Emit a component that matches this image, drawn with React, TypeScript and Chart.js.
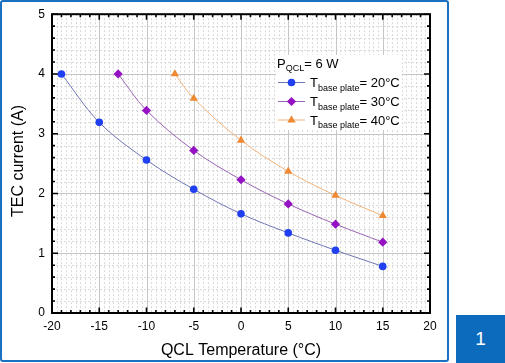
import React, { useEffect, useRef } from 'react';
import { Chart, registerables } from 'chart.js';

Chart.register(...registerables);

const FONT = '"Liberation Sans", Arial, sans-serif';

// ---- data ----
const temps20 = [-19, -15, -10, -5, 0, 5, 10, 15];
const current20 = [4.0, 3.19, 2.56, 2.07, 1.66, 1.34, 1.05, 0.78];
const temps30 = [-13, -10, -5, 0, 5, 10, 15];
const current30 = [4.0, 3.39, 2.72, 2.23, 1.825, 1.487, 1.185];
const temps40 = [-7, -5, 0, 5, 10, 15];
const current40 = [4.0, 3.59, 2.89, 2.37, 1.967, 1.628];

const seriesLabels = ['20°C', '30°C', '40°C'];
const xTitle = 'QCL Temperature (°C)';
const yTitle = 'TEC current (A)';
const powerLabel = '6 W';

const X_MIN = -20, X_MAX = 20, Y_MIN = 0, Y_MAX = 5;

const markerColors = ['#1f3ff0', '#9412c4', '#ee8a34'];
const lineColors = ['#6f76b4', '#9a62b4', '#f2b37a'];
const pointStyles = ['circle', 'rectRot', 'triangle'];
const pointRadii = [3.8, 4.6, 4.8];

function drawMarker(ctx: CanvasRenderingContext2D, style: string, x: number, y: number, r: number, color: string) {
  ctx.save();
  ctx.fillStyle = color;
  ctx.beginPath();
  if (style === 'circle') {
    ctx.arc(x, y, r, 0, Math.PI * 2);
  } else if (style === 'rectRot') {
    ctx.moveTo(x, y - r);
    ctx.lineTo(x + r, y);
    ctx.lineTo(x, y + r);
    ctx.lineTo(x - r, y);
    ctx.closePath();
  } else {
    for (let k = 0; k < 3; k++) {
      const a = (k * 2 * Math.PI) / 3;
      const px = x + Math.sin(a) * r;
      const py = y - Math.cos(a) * r;
      if (k === 0) ctx.moveTo(px, py);
      else ctx.lineTo(px, py);
    }
    ctx.closePath();
  }
  ctx.fill();
  ctx.restore();
}

const framePlugin = {
  id: 'frameGrid',
  beforeDatasetsDraw(chart: any) {
    const { ctx, chartArea } = chart;
    const { left, right, top, bottom } = chartArea;
    const xs = chart.scales.x;
    const ys = chart.scales.y;
    ctx.save();
    // minor dotted grid
    ctx.strokeStyle = '#d9d9d9';
    ctx.lineWidth = 1;
    ctx.setLineDash([2, 2]);
    ctx.beginPath();
    for (let i = X_MIN * 2; i <= X_MAX * 2; i++) {
      if (i % 10 === 0) continue;
      const px = Math.round(xs.getPixelForValue(i / 2)) + 0.5;
      ctx.moveTo(px, top);
      ctx.lineTo(px, bottom);
    }
    for (let i = Y_MIN * 5; i <= Y_MAX * 5; i++) {
      if (i % 5 === 0) continue;
      const py = Math.round(ys.getPixelForValue(i / 5)) + 0.5;
      ctx.moveTo(left, py);
      ctx.lineTo(right, py);
    }
    ctx.stroke();
    // major grid
    ctx.setLineDash([]);
    ctx.strokeStyle = '#c6c6c6';
    ctx.beginPath();
    for (let v = X_MIN; v <= X_MAX; v += 5) {
      const px = Math.round(xs.getPixelForValue(v)) + 0.5;
      ctx.moveTo(px, top);
      ctx.lineTo(px, bottom);
    }
    for (let v = Y_MIN; v <= Y_MAX; v += 1) {
      const py = Math.round(ys.getPixelForValue(v)) + 0.5;
      ctx.moveTo(left, py);
      ctx.lineTo(right, py);
    }
    ctx.stroke();
    // frame box
    ctx.strokeStyle = '#000';
    ctx.lineWidth = 2;
    ctx.strokeRect(left, top, right - left, bottom - top);
    // inward ticks
    ctx.lineWidth = 1.6;
    ctx.beginPath();
    for (let i = X_MIN; i <= X_MAX; i++) {
      const len = i % 5 === 0 ? 5.5 : 3;
      const px = xs.getPixelForValue(i);
      ctx.moveTo(px, bottom);
      ctx.lineTo(px, bottom - len);
      ctx.moveTo(px, top);
      ctx.lineTo(px, top + len);
    }
    for (let i = Y_MIN * 5; i <= Y_MAX * 5; i++) {
      const len = i % 5 === 0 ? 6 : 3;
      const py = ys.getPixelForValue(i / 5);
      ctx.moveTo(left, py);
      ctx.lineTo(left + len, py);
      ctx.moveTo(right, py);
      ctx.lineTo(right - len, py);
    }
    ctx.stroke();
    ctx.restore();
  },
  afterDatasetsDraw(chart: any) {
    const { ctx } = chart;
    ctx.save();
    // legend background
    ctx.fillStyle = '#ffffff';
    ctx.fillRect(276, 55, 126, 75);
    ctx.fillStyle = '#000';
    ctx.textBaseline = 'alphabetic';
    ctx.textAlign = 'left';
    // P_QCL = 6 W
    let x = 277;
    ctx.font = `13px ${FONT}`;
    ctx.fillText('P', x, 67.5);
    x += ctx.measureText('P').width;
    ctx.font = `9px ${FONT}`;
    ctx.fillText('QCL', x, 71);
    x += ctx.measureText('QCL').width;
    ctx.font = `13px ${FONT}`;
    ctx.fillText('= ' + powerLabel, x, 67.5);
    // entries
    const rowsY = [87, 106, 124.5];
    for (let k = 0; k < 3; k++) {
      const by = rowsY[k];
      const my = by - 4.5;
      ctx.strokeStyle = lineColors[k];
      ctx.lineWidth = 1;
      ctx.beginPath();
      ctx.moveTo(278, my);
      ctx.lineTo(305, my);
      ctx.stroke();
      drawMarker(ctx, pointStyles[k], 291.5, my, pointRadii[k], markerColors[k]);
      ctx.fillStyle = '#000';
      let tx = 310;
      ctx.font = `13px ${FONT}`;
      ctx.fillText('T', tx, by);
      tx += ctx.measureText('T').width;
      ctx.font = `9px ${FONT}`;
      ctx.fillText('base plate', tx, by + 3.5);
      tx += ctx.measureText('base plate').width;
      ctx.font = `13px ${FONT}`;
      ctx.fillText('= ' + seriesLabels[k], tx, by);
    }
    // axis titles
    ctx.font = `16px ${FONT}`;
    ctx.textAlign = 'center';
    ctx.fillText(xTitle, 241, 355);
    ctx.save();
    ctx.translate(23, 161);
    ctx.rotate(-Math.PI / 2);
    ctx.fillText(yTitle, 0, 0);
    ctx.restore();
    ctx.restore();
  },
};

function toPoints(xs: number[], ys: number[]) {
  return xs.map((v, i) => ({ x: v, y: ys[i] }));
}

export default function App() {
  const ref = useRef<HTMLCanvasElement>(null);
  useEffect(() => {
    if (!ref.current) return;
    const series = [
      toPoints(temps20, current20),
      toPoints(temps30, current30),
      toPoints(temps40, current40),
    ];
    const chart = new Chart(ref.current, {
      type: 'line',
      data: {
        datasets: series.map((d, k) => ({
          label: seriesLabels[k],
          data: d,
          borderColor: lineColors[k],
          borderWidth: 1,
          backgroundColor: markerColors[k],
          pointBackgroundColor: markerColors[k],
          pointBorderColor: markerColors[k],
          pointBorderWidth: 0,
          pointStyle: pointStyles[k] as any,
          pointRadius: pointRadii[k],
          tension: 0.35,
          fill: false,
        })),
      },
      options: {
        responsive: false,
        animation: false,
        devicePixelRatio: 1,
        layout: { padding: { left: 0, top: 9.7, right: 19, bottom: 0 } },
        plugins: { legend: { display: false }, tooltip: { enabled: false } },
        scales: {
          x: {
            type: 'linear',
            min: X_MIN,
            max: X_MAX,
            afterFit: (s: any) => { s.height = 49; },
            ticks: {
              stepSize: 5,
              color: '#000',
              padding: 6,
              maxRotation: 0,
              autoSkip: false,
              font: { family: FONT, size: 12 },
            },
            grid: { display: true, drawOnChartArea: false, drawTicks: false, color: 'rgba(0,0,0,0)' },
            border: { display: false },
          },
          y: {
            type: 'linear',
            min: Y_MIN,
            max: Y_MAX,
            afterFit: (s: any) => { s.width = 52; },
            ticks: {
              stepSize: 1,
              color: '#000',
              padding: 7,
              font: { family: FONT, size: 12 },
            },
            grid: { display: true, drawOnChartArea: false, drawTicks: false, color: 'rgba(0,0,0,0)' },
            border: { display: false },
          },
        },
      },
      plugins: [framePlugin],
    });
    return () => chart.destroy();
  }, []);

  return (
    <div style={{ position: 'fixed', left: 0, top: 0, width: 505, height: 363, background: '#fff', overflow: 'hidden' }}>
      <canvas ref={ref} width={449} height={362} style={{ position: 'absolute', left: 0, top: 0, display: 'block' }} />
      <div
        style={{
          position: 'absolute', left: 0, top: 0, width: 449, height: 362,
          border: '2px solid #1c70c2', borderRadius: 3, boxSizing: 'border-box', pointerEvents: 'none',
        }}
      />
      <div
        style={{
          position: 'absolute', left: 456, top: 315, width: 49, height: 48, background: '#0c6bbd',
          color: '#fff', fontFamily: FONT, fontSize: 19, display: 'flex', alignItems: 'center', justifyContent: 'center',
        }}
      >
        1
      </div>
    </div>
  );
}
